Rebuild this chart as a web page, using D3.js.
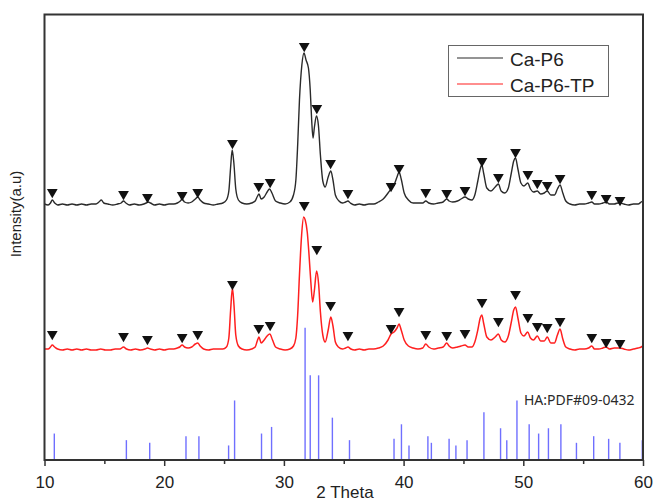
<!DOCTYPE html>
<html>
<head>
<meta charset="utf-8">
<script src="https://cdn.jsdelivr.net/npm/d3@7"></script>
<style>
  body { margin: 0; background: #fff; }
  svg { display: block; }
</style>
</head>
<body>
<div id="chart"></div>
<script>
// XRD pattern: two samples stacked with an offset, plus the HA reference card
const seriesNames = ["Ca-P6", "Ca-P6-TP"];
const seriesColors = ["#2a2a2a", "#ff1f1f"];
const seriesOffsets = [255, 110];

// [2theta, intensity]
const ca_p6 = [[10.0,1],[10.3,0],[10.5,2],[10.65,5],[10.85,2],[11.1,0],[11.5,1],[11.9,0],[12.3,1],[12.7,0],[13.1,1],[13.5,0],[13.9,1],[14.3,1],[14.55,3],[14.75,5],[14.95,2],[15.3,1],[15.7,0],[16.1,1],[16.4,2],[16.6,4],[16.8,2],[17.1,0],[17.5,1],[17.9,0],[18.3,1],[18.5,2],[18.65,3],[18.85,2],[19.2,0],[19.6,1],[20.0,0],[20.4,1],[20.8,1],[21.1,2],[21.35,4],[21.5,6],[21.7,3],[22.0,2],[22.3,3],[22.6,6],[22.8,8],[23.0,5],[23.3,2],[23.7,1],[24.1,0],[24.5,1],[24.9,2],[25.2,5],[25.4,14],[25.55,38],[25.68,55],[25.82,42],[25.98,16],[26.2,5],[26.5,2],[26.9,1],[27.3,2],[27.6,4],[27.8,9],[27.92,11],[28.1,6],[28.35,8],[28.6,13],[28.8,16],[29.0,12],[29.3,4],[29.7,2],[30.1,1],[30.5,3],[30.8,10],[31.0,25],[31.15,60],[31.3,105],[31.5,140],[31.68,152],[31.85,145],[32.05,137],[32.2,115],[32.32,85],[32.43,67],[32.55,78],[32.72,89],[32.88,80],[33.05,50],[33.25,24],[33.45,18],[33.7,28],[33.92,34],[34.1,25],[34.3,10],[34.6,4],[34.9,2],[35.15,3],[35.35,4],[35.55,2],[35.9,0],[36.3,1],[36.7,0],[37.1,1],[37.5,1],[37.9,3],[38.3,6],[38.7,12],[38.95,16],[39.2,20],[39.45,28],[39.62,33],[39.8,26],[40.05,12],[40.4,5],[40.8,2],[41.2,2],[41.6,2],[41.85,4],[42.1,2],[42.5,1],[42.9,2],[43.3,3],[43.6,6],[43.8,4],[44.1,3],[44.5,4],[44.8,6],[45.13,8],[45.4,6],[45.7,5],[45.95,10],[46.2,24],[46.4,36],[46.53,40],[46.7,31],[46.95,17],[47.3,14],[47.65,18],[47.92,21],[48.15,14],[48.45,12],[48.75,17],[49.0,32],[49.2,44],[49.35,47],[49.55,36],[49.8,22],[50.05,19],[50.37,22],[50.6,16],[50.85,13],[51.17,14],[51.45,11],[51.75,12],[52.0,14],[52.3,10],[52.6,10],[52.85,16],[53.07,20],[53.3,12],[53.55,4],[53.9,1],[54.3,0],[54.7,1],[55.1,1],[55.45,2],[55.72,3],[55.95,1],[56.3,1],[56.65,2],[56.92,3],[57.2,1],[57.6,1],[57.9,2],[58.08,2],[58.4,1],[58.8,0],[59.2,1],[59.6,1],[59.85,3],[60.0,4]];

const ca_p6_tp = [[10.0,1],[10.3,1],[10.5,3],[10.65,5],[10.85,3],[11.1,1],[11.5,0],[11.9,1],[12.3,0],[12.7,1],[13.1,0],[13.5,1],[13.9,0],[14.3,0],[14.7,1],[15.1,0],[15.5,0],[15.9,1],[16.3,1],[16.6,3],[16.85,1],[17.2,0],[17.6,1],[18.0,0],[18.4,1],[18.6,2],[18.85,1],[19.2,0],[19.6,1],[20.0,0],[20.4,1],[20.8,1],[21.1,2],[21.3,3],[21.5,5],[21.7,3],[22.0,2],[22.3,3],[22.6,6],[22.8,7],[23.0,4],[23.3,1],[23.7,0],[24.1,1],[24.5,1],[24.9,1],[25.2,3],[25.4,12],[25.55,40],[25.7,62],[25.83,45],[25.98,15],[26.2,4],[26.5,1],[26.9,0],[27.3,1],[27.6,3],[27.8,10],[27.92,13],[28.1,7],[28.35,10],[28.6,14],[28.82,16],[29.05,10],[29.3,3],[29.7,1],[30.1,0],[30.5,1],[30.8,4],[31.0,12],[31.15,35],[31.3,75],[31.48,115],[31.65,133],[31.78,130],[31.95,118],[32.1,95],[32.25,68],[32.4,48],[32.55,60],[32.73,79],[32.9,66],[33.05,38],[33.25,15],[33.45,8],[33.7,20],[33.92,33],[34.1,24],[34.3,8],[34.55,3],[34.9,1],[35.15,2],[35.35,3],[35.6,1],[35.9,0],[36.3,1],[36.7,0],[37.1,1],[37.5,1],[37.9,2],[38.3,4],[38.7,10],[38.95,16],[39.2,18],[39.45,22],[39.62,26],[39.8,20],[40.05,10],[40.4,4],[40.8,2],[41.2,1],[41.6,2],[41.85,6],[42.1,3],[42.5,1],[42.9,2],[43.3,3],[43.6,7],[43.8,4],[44.1,2],[44.5,3],[44.8,4],[45.13,5],[45.4,3],[45.7,3],[45.95,8],[46.2,20],[46.4,32],[46.53,35],[46.7,26],[46.95,13],[47.3,10],[47.65,13],[47.92,16],[48.15,10],[48.45,8],[48.75,14],[49.0,28],[49.2,40],[49.35,43],[49.55,32],[49.8,17],[50.05,14],[50.37,18],[50.6,12],[50.85,10],[51.17,14],[51.45,9],[51.75,9],[52.0,13],[52.3,7],[52.6,7],[52.85,15],[53.07,21],[53.3,11],[53.55,3],[53.9,1],[54.3,0],[54.7,1],[55.1,1],[55.45,2],[55.72,4],[55.95,1],[56.3,1],[56.65,2],[56.92,3],[57.2,1],[57.6,2],[57.9,2],[58.08,2],[58.4,1],[58.8,0],[59.2,1],[59.6,2],[59.85,3],[60.0,4]];

// peak markers (triangles): 2theta and marker level above each curve's baseline
const markerTheta = [10.65,16.6,18.6,21.5,22.8,25.7,27.9,28.85,31.7,32.75,33.9,35.35,38.95,39.62,41.85,43.6,45.13,46.55,47.92,49.35,50.38,51.17,52.0,53.07,55.72,56.92,58.08];
const markerLevelP6 = [13,11,8,10,13,62,19,23,159,97,42,12,19,37,13,12,15,44,28,53,31,22,20,27,11,7,5];
const markerLevelTP = [16,14,11,13,16,66,22,25,145,101,45,15,22,39,16,15,17,48,29,56,33,24,23,29,13,8,7];

// HA:PDF#09-0432 reference lines (relative intensity)
const refTheta = [10.82,16.84,18.79,21.82,22.90,25.38,25.88,28.13,28.97,31.77,32.20,32.90,34.05,35.48,39.20,39.82,40.45,42.03,42.32,43.80,44.37,45.30,46.71,48.10,48.62,49.47,50.49,51.28,52.10,53.14,54.44,55.88,57.13,58.07,59.94];
const refIntensity = [20,15,13,18,18,11,45,20,25,100,64,64,32,15,16,27,11,18,13,16,11,15,36,24,15,45,27,20,24,27,13,18,16,13,15];

const xTicks = [10, 20, 30, 40, 50, 60];

const width = 654, height = 501;
const margin = { top: 14.5, right: 11, bottom: 41, left: 44.5 };

const svg = d3.select("#chart").append("svg")
    .attr("width", width)
    .attr("height", height)
    .style("font-family", "'Liberation Sans', Arial, sans-serif");

const x = d3.scaleLinear().domain([10, 60]).range([margin.left, width - margin.right]);
const y = d3.scaleLinear().domain([0, 445.5]).range([height - margin.bottom, margin.top]);
const yRef = d3.scaleLinear().domain([0, 100]).range([height - margin.bottom, 327.7]);

const plot = svg.append("g");

// reference lines
plot.selectAll(".ref")
    .data(refTheta)
    .enter()
    .append("line")
    .attr("x1", d => x(d))
    .attr("x2", d => x(d))
    .attr("y1", yRef(0))
    .attr("y2", (d, i) => yRef(refIntensity[i]))
    .attr("stroke", "#6f6fff")
    .attr("stroke-width", 1.4);

plot.append("text")
    .attr("x", 524)
    .attr("y", 405)
    .attr("font-family", "'Noto Sans', 'Open Sans', sans-serif")
    .attr("font-size", 14)
    .attr("fill", "#2a2a2a")
    .text("HA:PDF#09-0432");

// curves
const line = d3.line()
    .x(d => x(d[0]))
    .curve(d3.curveMonotoneX);

[ca_p6, ca_p6_tp].forEach((data, i) => {
    line.y(d => y(d[1] + seriesOffsets[i]));
    plot.append("path")
        .datum(data)
        .attr("fill", "none")
        .attr("stroke", seriesColors[i])
        .attr("stroke-width", i === 0 ? 1.4 : 1.5)
        .attr("stroke-linejoin", "round")
        .attr("d", line);
});

// triangles above the peaks
const tri = d3.symbol().type(d3.symbolTriangle).size(50);
[markerLevelP6, markerLevelTP].forEach((levels, i) => {
    plot.selectAll(".mk" + i)
        .data(markerTheta)
        .enter()
        .append("path")
        .attr("d", tri)
        .attr("transform", (d, j) => `translate(${x(d)},${y(levels[j] + seriesOffsets[i])}) rotate(180)`)
        .attr("fill", "#111");
});

// x axis
const xAxis = d3.axisBottom(x)
    .tickValues(xTicks)
    .tickSize(6)
    .tickSizeOuter(0)
    .tickPadding(10);

const gx = svg.append("g")
    .attr("transform", `translate(0,${height - margin.bottom})`)
    .call(xAxis);
gx.select(".domain").remove();
gx.selectAll(".tick line").attr("stroke", "#333").attr("stroke-width", 1.5);
gx.selectAll(".tick text").attr("font-size", 17).attr("fill", "#222")
    .attr("font-family", "'Liberation Sans', Arial, sans-serif");

// minor ticks
const gMinor = svg.append("g")
    .attr("transform", `translate(0,${height - margin.bottom})`)
    .call(d3.axisBottom(x).tickValues([15, 25, 35, 45, 55]).tickSize(4).tickSizeOuter(0).tickFormat(""));
gMinor.select(".domain").remove();
gMinor.selectAll(".tick line").attr("stroke", "#333").attr("stroke-width", 1.5);

// frame
svg.append("rect")
    .attr("x", margin.left)
    .attr("y", margin.top)
    .attr("width", width - margin.right - margin.left)
    .attr("height", height - margin.bottom - margin.top)
    .attr("fill", "none")
    .attr("stroke", "#333")
    .attr("stroke-width", 2);

// axis titles
svg.append("text")
    .attr("x", 345)
    .attr("y", 498)
    .attr("text-anchor", "middle")
    .attr("font-size", 17)
    .attr("fill", "#222")
    .text("2 Theta");

svg.append("text")
    .attr("transform", "translate(21,214) rotate(-90)")
    .attr("text-anchor", "middle")
    .attr("font-size", 15)
    .attr("fill", "#222")
    .text("Intensity(a.u)");

// legend
const legend = svg.append("g");
legend.append("rect")
    .attr("x", 448.5)
    .attr("y", 45.5)
    .attr("width", 160)
    .attr("height", 51)
    .attr("fill", "#fff")
    .attr("stroke", "#666")
    .attr("stroke-width", 1);

seriesNames.forEach((name, i) => {
    const ly = 58 + i * 26;
    legend.append("line")
        .attr("x1", 457).attr("x2", 503)
        .attr("y1", ly).attr("y2", ly)
        .attr("stroke", seriesColors[i])
        .attr("stroke-width", 1.2);
    legend.append("text")
        .attr("x", 510)
        .attr("y", ly + 8)
        .attr("font-size", 19)
        .attr("fill", "#222")
        .text(name);
});
</script>
</body>
</html>
